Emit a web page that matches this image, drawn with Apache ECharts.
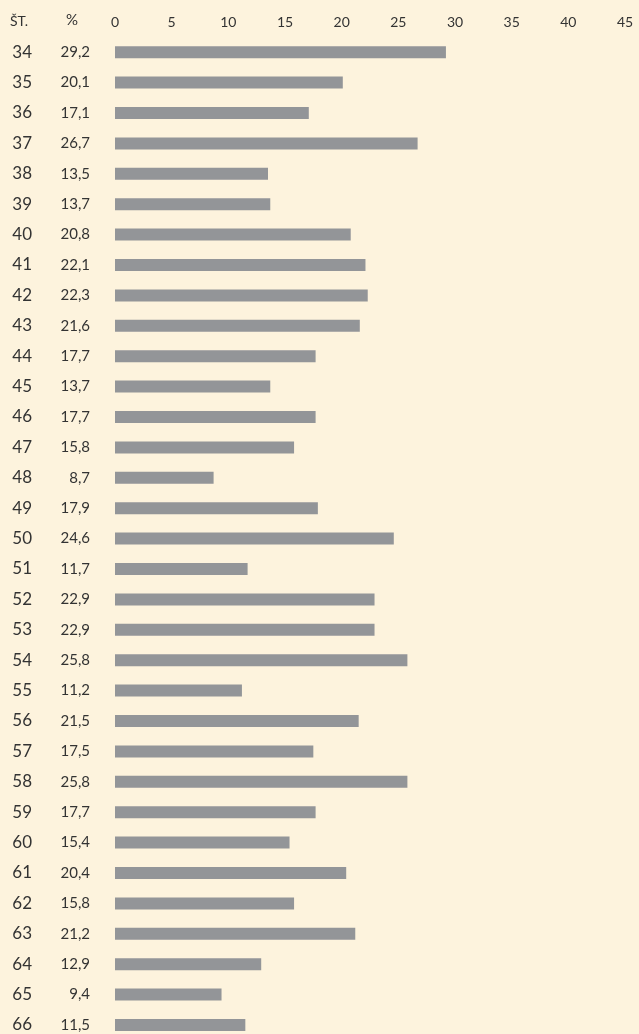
<!DOCTYPE html>
<html>
<head>
<meta charset="utf-8">
<script src="https://cdn.jsdelivr.net/npm/echarts@6/dist/echarts.min.js"></script>
<style>
  html, body { margin: 0; padding: 0; background: #fdf3dd; overflow: hidden; }
  #chart { width: 639px; height: 1050px; }
</style>
</head>
<body>
<div id="chart"></div>
<script>
// data
var stations = ['34','35','36','37','38','39','40','41','42','43','44','45','46','47','48','49','50',
  '51','52','53','54','55','56','57','58','59','60','61','62','63','64','65','66'];
var percents = [29.2, 20.1, 17.1, 26.7, 13.5, 13.7, 20.8, 22.1, 22.3, 21.6, 17.7, 13.7, 17.7, 15.8, 8.7,
  17.9, 24.6, 11.7, 22.9, 22.9, 25.8, 11.2, 21.5, 17.5, 25.8, 17.7, 15.4, 20.4, 15.8, 21.2, 12.9, 9.4, 11.5];
var xTicks = [0, 5, 10, 15, 20, 25, 30, 35, 40, 45];

var textColor = '#333333';
var fontName = 'Lato, "Open Sans", sans-serif';

var chart = echarts.init(document.getElementById('chart'));

var fmt = function (v) { return String(v.toFixed(1)).replace('.', ','); };

chart.setOption({
  backgroundColor: '#fdf3dd',
  animation: false,
  grid: { left: 115, top: 37, width: 510, height: 1003.2 },
  graphic: [
    { type: 'text', left: 10, top: 14, style: { text: 'ŠT.', fill: textColor, font: '14px ' + fontName } },
    { type: 'text', left: 66, top: 13, style: { text: '%', fill: textColor, font: '15px ' + fontName } }
  ],
  xAxis: {
    type: 'value',
    position: 'top',
    min: xTicks[0],
    max: xTicks[xTicks.length - 1],
    interval: 5,
    axisLine: { show: false },
    axisTick: { show: false },
    splitLine: { show: false },
    axisLabel: { color: textColor, fontSize: 14, fontFamily: fontName, margin: 8 }
  },
  yAxis: {
    type: 'category',
    inverse: true,
    data: stations,
    axisLine: { show: false },
    axisTick: { show: false },
    axisLabel: {
      margin: 25,
      formatter: function (v, i) { return '{a|' + v + '}{b|' + fmt(percents[i]) + '}'; },
      rich: {
        a: { width: 22, align: 'right', fontSize: 17, color: textColor, fontFamily: fontName },
        b: { width: 58, align: 'right', fontSize: 15, color: textColor, fontFamily: fontName }
      }
    }
  },
  series: [{
    type: 'bar',
    data: percents,
    barWidth: 12,
    itemStyle: { color: '#939598' }
  }]
});
</script>
</body>
</html>
